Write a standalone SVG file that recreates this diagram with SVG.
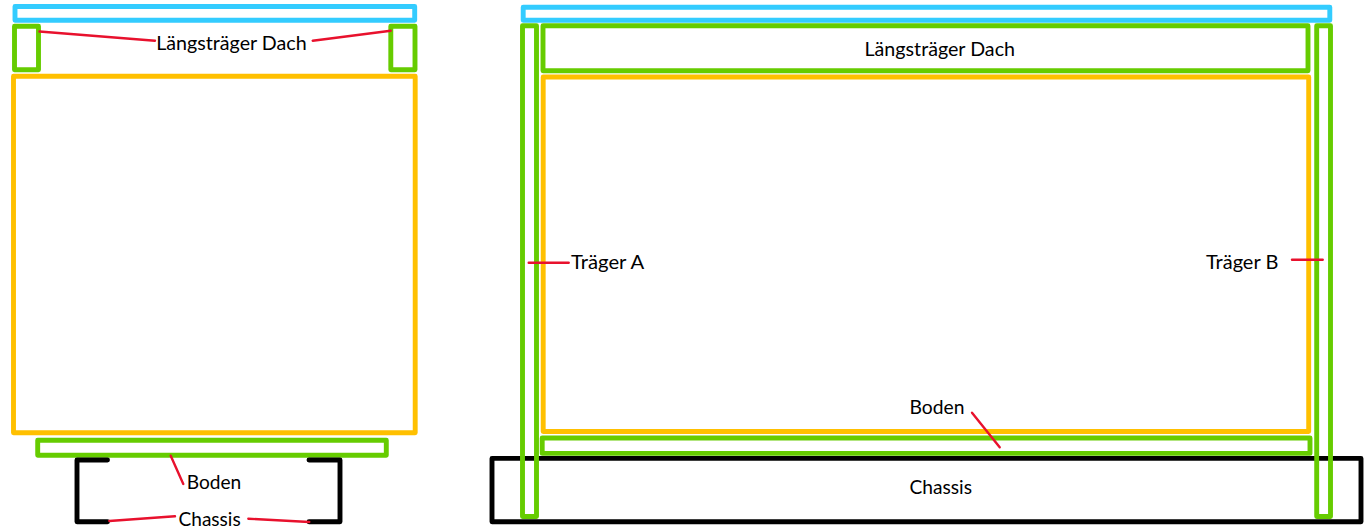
<svg xmlns="http://www.w3.org/2000/svg" width="1369" height="531" viewBox="0 0 1369 531">
<style>
.s{fill:none;stroke-width:4.9;stroke-linejoin:round;stroke-linecap:round}
.blue{stroke:#33ccff}.green{stroke:#66cc00}.orange{stroke:#ffc000}.black{stroke:#000}
.c{fill:none;stroke:#e8112d;stroke-width:2.4;stroke-linecap:round}
text{font-family:"Lato","Liberation Sans",sans-serif;font-size:19px;fill:#000}
</style>
<rect width="1369" height="531" fill="#fff"/>
<g id="left-view">
<g id="left-dach"><rect class="s blue" x="15" y="6.5" width="399.7" height="13.8"/></g>
<g id="left-laengstraeger-a"><rect class="s green" x="14.5" y="26.3" width="24" height="43.4"/></g>
<g id="left-laengstraeger-b"><rect class="s green" x="390.8" y="26.3" width="24.2" height="43.4"/></g>
<g id="left-aufbau"><rect class="s orange" x="13.5" y="76.3" width="401.7" height="356.4"/></g>
<g id="left-boden"><rect class="s green" x="37.7" y="440.3" width="348.6" height="15"/></g>
<g id="left-chassis">
<path class="s black" d="M107.5 460H77V521.8H107.5"/>
<path class="s black" d="M309 460H340V521.8H309"/>
</g>
</g>
<g id="right-view">
<g id="right-chassis"><rect class="s black" x="492" y="458.4" width="869" height="63.3"/></g>
<g id="right-dach"><rect class="s blue" x="523.2" y="7.3" width="806.6" height="13"/></g>
<g id="right-laengstraeger"><rect class="s green" x="543" y="25.8" width="765" height="44.9"/></g>
<g id="right-aufbau"><rect class="s orange" x="543.2" y="77" width="765.5" height="354.5"/></g>
<g id="right-boden"><rect class="s green" x="542.2" y="438" width="767.8" height="15.4"/></g>
<g id="traeger-a"><rect class="s green" x="522.5" y="25.8" width="14" height="490.7"/></g>
<g id="traeger-b"><rect class="s green" x="1316.7" y="25.8" width="13.8" height="490.7"/></g>
</g>
<g id="connectors">
<path class="c" d="M39.5 31.5L155 40.7"/>
<path class="c" d="M312.7 40.7L390.7 30.7"/>
<path class="c" d="M170.7 455.7L183.3 484"/>
<path class="c" d="M109.3 521L175 516.3"/>
<path class="c" d="M248.3 518.7L309.3 522"/>
<path class="c" d="M528.7 262.7H568.7"/>
<path class="c" d="M1292 259.7H1322.7"/>
<path class="c" d="M972 412.7L999.7 447.3"/>
</g>
<g id="labels">
<text x="156.2" y="50" textLength="150.5" lengthAdjust="spacingAndGlyphs">Längsträger Dach</text>
<text x="186.8" y="489.3" textLength="54.5" lengthAdjust="spacingAndGlyphs">Boden</text>
<text x="178.5" y="526" textLength="62.2" lengthAdjust="spacingAndGlyphs">Chassis</text>
<text x="864.5" y="56.3" textLength="150.5" lengthAdjust="spacingAndGlyphs">Längsträger Dach</text>
<text x="571" y="269.4" textLength="73.3" lengthAdjust="spacingAndGlyphs">Träger A</text>
<text x="1206" y="269.4" textLength="72.3" lengthAdjust="spacingAndGlyphs">Träger B</text>
<text x="909.5" y="414" textLength="55" lengthAdjust="spacingAndGlyphs">Boden</text>
<text x="909.5" y="493.6" textLength="62.5" lengthAdjust="spacingAndGlyphs">Chassis</text>
</g>
</svg>
